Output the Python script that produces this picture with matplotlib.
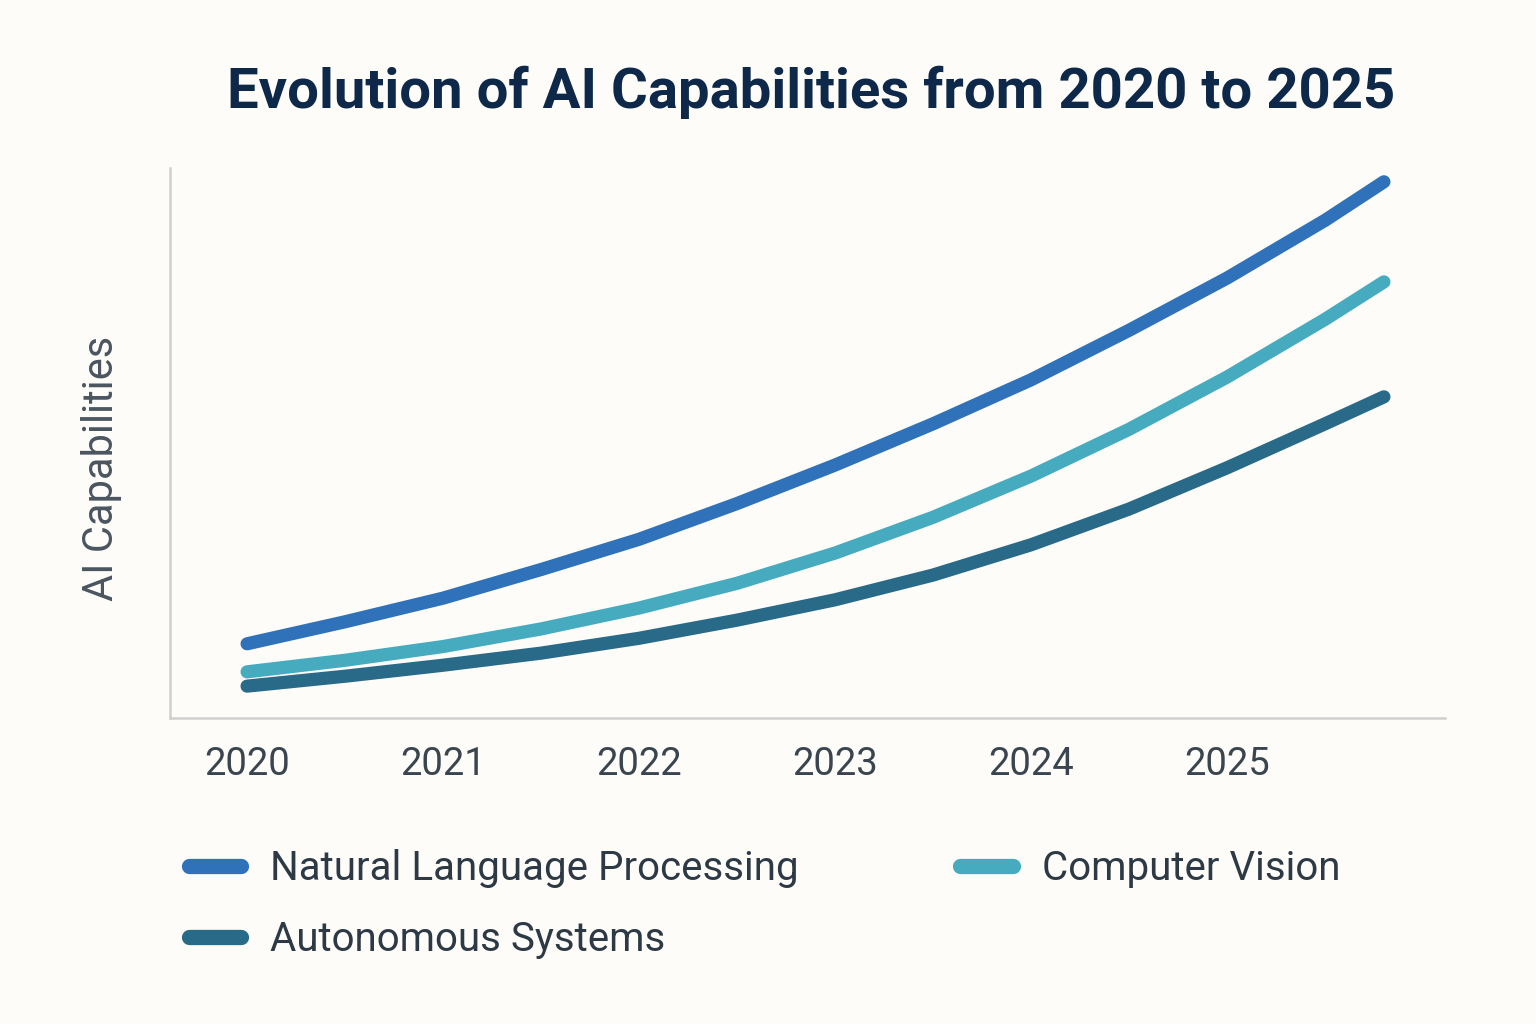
import numpy as np
import matplotlib
matplotlib.use("Agg")
from matplotlib import pyplot as plt

# values (arbitrary 0-100 scale, no y ticks shown)
years = [2020, 2020.5, 2021, 2021.5, 2022, 2022.5, 2023, 2023.5, 2024, 2024.5, 2025, 2025.5, 2025.8]
nlp = [13.5, 17.5, 21.8, 27.0, 32.5, 39.0, 46.0, 53.5, 61.5, 70.5, 80.0, 90.5, 97.5]
vision = [8.4, 10.5, 13.0, 16.2, 20.0, 24.5, 30.0, 36.5, 44.0, 52.5, 62.0, 72.5, 79.3]
autonomous = [5.8, 7.6, 9.6, 11.8, 14.5, 17.8, 21.5, 26.0, 31.5, 38.0, 45.5, 53.5, 58.4]
tick_years = [2020, 2021, 2022, 2023, 2024, 2025]

series_names = ["Natural Language Processing", "Computer Vision", "Autonomous Systems"]
colors = ["#3072b9", "#47abc0", "#286a88"]

plt.rcParams['font.family'] = ['Roboto', 'DejaVu Sans']
bg = "#fdfcf8"

fig = plt.figure(figsize=(15.36, 10.24), dpi=100, facecolor=bg)
ax = fig.add_axes([0.1107, 0.2988, 0.8301, 0.5371], facecolor=bg)

lines = []
for vals, name, c in zip([nlp, vision, autonomous], series_names, colors):
    ln, = ax.plot(years, vals, color=c, lw=9.5, solid_capstyle='round',
                  solid_joinstyle='round', label=name)
    lines.append(ln)

ax.set_xlim(2019.607, 2026.112)
ax.set_ylim(0, 100)
ax.set_xticks(tick_years)
ax.set_xticklabels([str(y) for y in tick_years])
ax.set_yticks([])
ax.tick_params(axis='x', length=0, pad=20, labelsize=27.5, labelcolor="#3a4550")

for s in ['top', 'right']:
    ax.spines[s].set_visible(False)
for s in ['left', 'bottom']:
    ax.spines[s].set_color("#cfcfcf")
    ax.spines[s].set_linewidth(1.8)

ax.set_ylabel("AI Capabilities", fontsize=30, color="#4a5560")
ax.yaxis.set_label_coords(-0.0376, 0.4545)

fig.text(0.528, 0.91, "Evolution of AI Capabilities from 2020 to 2025",
         ha='center', va='center', fontsize=40.5, fontweight='bold', color="#0d2848")

# column-first fill: NLP, Autonomous in col 1, Vision in col 2
leg = fig.legend([lines[0], lines[2], lines[1]],
                 [series_names[0], series_names[2], series_names[1]],
                 ncol=2, loc='upper left', bbox_to_anchor=(0.0995, 0.206),
                 frameon=False, fontsize=29, labelcolor="#2d3a46",
                 handlelength=1.3, handletextpad=0.72, columnspacing=4.0,
                 labelspacing=0.78)
for h in leg.legend_handles:
    h.set_linewidth(11)

fig.savefig("out.png", dpi=100, facecolor=bg)
